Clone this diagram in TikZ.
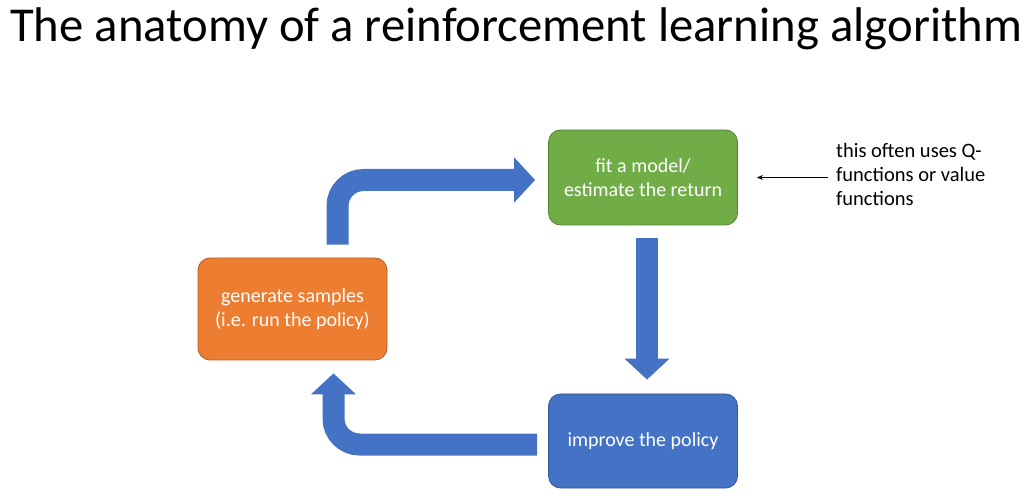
\documentclass[tikz,border=0pt]{standalone}
\usepackage{fontspec}
\setmainfont{Carlito}
\usetikzlibrary{arrows.meta}

\definecolor{stepOrange}{HTML}{ED7D31}
\definecolor{stepGreen}{HTML}{70AD47}
\definecolor{stepBlue}{HTML}{4472C4}

\tikzset{
  stepbox/.style={rectangle, rounded corners=12pt, line width=0.8pt,
    minimum width=189pt, text=white, align=center, font=\fontsize{20}{24}\selectfont},
  flow/.style={draw=stepBlue, line width=22pt, rounded corners=26pt,
    -{Triangle[width=44pt, length=21pt]}},
  note/.style={align=left, font=\fontsize{20.5}{24}\selectfont, inner sep=0pt}
}

\begin{document}
\begin{tikzpicture}[x=1pt, y=1pt]
\path[use as bounding box] (0,0) rectangle (1032,503);

\node[anchor=base west, inner sep=0pt, font=\fontsize{48.7}{56}\selectfont] (title) at (10,461)
  {The anatomy of a reinforcement learning algorithm};

\node[stepbox, fill=stepOrange, draw=stepOrange!75!black, minimum height=102pt] (samples) at (292.5,194)
  {generate samples\\(i.e. run the policy)};
\node[stepbox, fill=stepGreen, draw=stepGreen!75!black, minimum height=95pt] (fit) at (643,325.5)
  {fit a model/\\estimate the return};
\node[stepbox, fill=stepBlue, draw=stepBlue!75!black, minimum height=94pt] (improve) at (643,62)
  {improve the policy};

\node[note, anchor=west] (note) at (836,329)
  {this often uses Q-\\functions or value\\functions};

% the loop
\draw[flow] ([xshift=45pt, yshift=13pt]samples.north) |- ([xshift=-13pt, yshift=-2.5pt]fit.west);
\draw[flow] ([xshift=4pt, yshift=-13pt]fit.south) -- ([xshift=4pt, yshift=14pt]improve.north);
\draw[flow] ([xshift=-11pt, yshift=-3.5pt]improve.west) -| ([xshift=41pt, yshift=-13pt]samples.south);

\draw[-{Stealth[length=6pt, width=5pt]}, line width=0.8pt] ([xshift=-8pt]note.west |- fit.east) -- ([xshift=19pt]fit.east);
\end{tikzpicture}
\end{document}
